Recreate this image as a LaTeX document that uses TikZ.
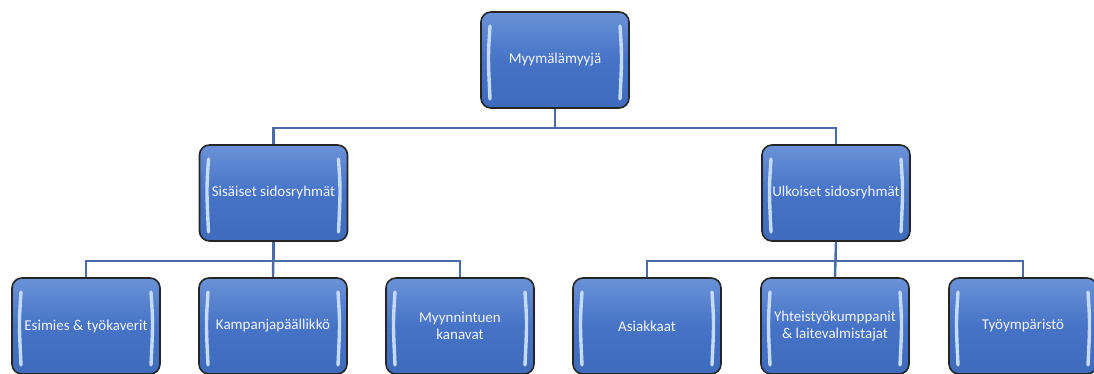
\documentclass[tikz,border=0pt]{standalone}
\usepackage{fontspec}
\setmainfont{Carlito}
\usetikzlibrary{backgrounds}
\definecolor{boxmid}{HTML}{4673C6}
\definecolor{boxtop}{HTML}{6A92D8}
\definecolor{boxbot}{HTML}{3F6BBC}
\definecolor{linkc}{HTML}{4A6AA8}
\definecolor{hlc}{HTML}{C4DAF6}
\definecolor{txtc}{HTML}{F2F5FB}
\tikzset{
  orgbox/.style={rectangle, rounded corners=10pt, draw=black!85, line width=1.6pt,
    minimum width=148pt, minimum height=96pt, inner sep=0pt,
    top color=boxtop, bottom color=boxbot, middle color=boxmid,
    text=txtc, align=center, font=\fontsize{15}{17}\selectfont,
    path picture={
      \draw[hlc, line width=3.4pt, line cap=round]
        ([xshift=9pt,yshift=-14pt]path picture bounding box.north west)
        .. controls ([xshift=7pt,yshift=-45pt]path picture bounding box.north west) ..
        ([xshift=9pt,yshift=9pt]path picture bounding box.south west);
      \draw[hlc, line width=3.4pt, line cap=round]
        ([xshift=-9pt,yshift=-14pt]path picture bounding box.north east)
        .. controls ([xshift=-7pt,yshift=-45pt]path picture bounding box.north east) ..
        ([xshift=-9pt,yshift=9pt]path picture bounding box.south east);
    }},
  link/.style={draw=linkc, line width=2.4pt}
}
\begin{document}
\begin{tikzpicture}[x=1pt,y=-1pt]
\useasboundingbox (0,0) rectangle (1094,374);
\node[orgbox] (top) at (555,60) {Myymälämyyjä};
\node[orgbox] (sis) at (273.5,193) {Sisäiset sidosryhmät};
\node[orgbox] (ulk) at (836,193) {Ulkoiset sidosryhmät};
\node[orgbox] (b1) at (86,326) {Esimies \& työkaverit};
\node[orgbox] (b2) at (273,326) {Kampanjapäällikkö};
\node[orgbox] (b3) at (460,326) {Myynnintuen\\kanavat};
\node[orgbox] (b4) at (647,326) {Asiakkaat};
\node[orgbox] (b5) at (835,326) {Yhteistyökumppanit\\\& laitevalmistajat};
\node[orgbox] (b6) at (1023,326) {Työympäristö};
\begin{scope}[on background layer]
\draw[link] (top.south) -- +(0,19) -| (sis.north);
\draw[link] (top.south) -- +(0,19) -| (ulk.north);
\draw[link] (sis.south) -- +(0,19) -| (b1.north);
\draw[link] (sis.south) -- (b2.north);
\draw[link] (sis.south) -- +(0,19) -| (b3.north);
\draw[link] (ulk.south) -- +(0,19) -| (b4.north);
\draw[link] (ulk.south) -- (b5.north);
\draw[link] (ulk.south) -- +(0,19) -| (b6.north);
\end{scope}
\end{tikzpicture}
\end{document}
